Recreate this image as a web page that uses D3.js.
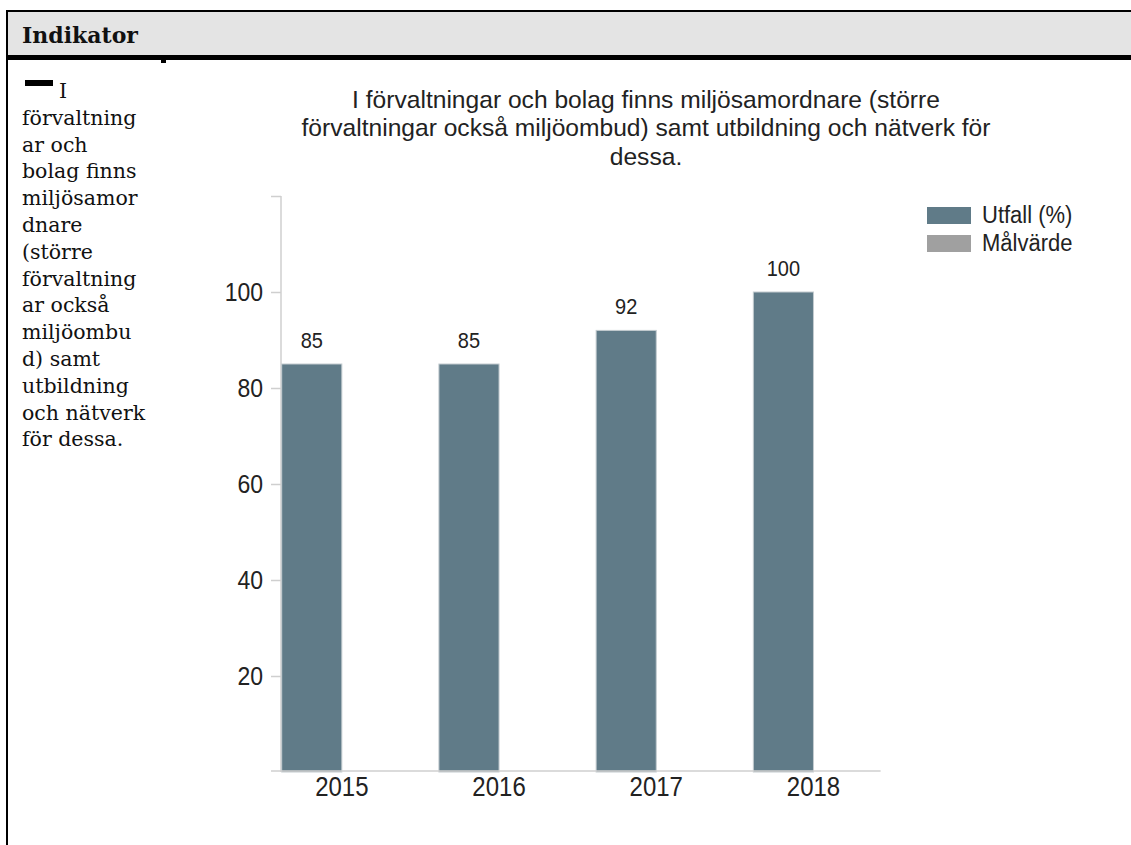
<!DOCTYPE html>
<html>
<head>
<meta charset="utf-8">
<script src="https://cdn.jsdelivr.net/npm/d3@7"></script>
<style>
  body { margin: 0; background: #fff; width: 1131px; height: 845px; overflow: hidden; position: relative; }
  .frame { position: absolute; left: 6px; top: 10px; width: 1200px; height: 900px; border-left: 2px solid #000; border-top: 2px solid #000; }
  .head { position: absolute; left: 8px; top: 12px; width: 1200px; height: 43px; background: #e4e4e4; }
  .head span { position: absolute; left: 14px; top: 10px; font-family: "DejaVu Serif", serif; font-weight: bold; font-size: 22px; color: #111; }
  .rule { position: absolute; left: 8px; top: 55px; width: 1200px; height: 5px; background: #000; }
  .nub { position: absolute; left: 161px; top: 60px; width: 5px; height: 3px; background: #000; }
  .side { position: absolute; left: 22px; top: 78px; font-family: "DejaVu Serif", serif; font-size: 20.5px; line-height: 26.8px; color: #111; }
  .dash { display: inline-block; width: 28px; height: 6px; background: #000; vertical-align: 12px; margin-left: 3px; margin-right: 6px; }
  #chart { position: absolute; left: 0; top: 0; }
</style>
</head>
<body>
<div class="frame"></div>
<div class="head"><span>Indikator</span></div>
<div class="rule"></div>
<div class="nub"></div>
<div class="side"><span class="dash"></span>I<br>förvaltning<br>ar och<br>bolag finns<br>miljösamor<br>dnare<br>(större<br>förvaltning<br>ar också<br>miljöombu<br>d) samt<br>utbildning<br>och nätverk<br>för dessa.</div>
<div id="chart"></div>
<script>
const titleLines = [
  "I förvaltningar och bolag finns miljösamordnare (större",
  "förvaltningar också miljöombud) samt utbildning och nätverk för",
  "dessa."
];
const years = ["2015", "2016", "2017", "2018"];
const utfall = [85, 85, 92, 100];
const malvarde = [null, null, null, null];
const seriesNames = ["Utfall (%)", "Målvärde"];
const seriesColors = ["#607b88", "#a0a0a0"];
const yTicks = [20, 40, 60, 80, 100, 120];

const width = 1131;
const height = 845;
const font = "'Liberation Sans', Arial, sans-serif";
const stretchY = 1.12;

// the source texts are a bit taller than Arial, stretch them around their own y
const stretch = (sel) =>
  sel.attr("transform", function () {
    const y0 = +this.getAttribute("y") || 0;
    return `matrix(1,0,0,${stretchY},0,${y0 * (1 - stretchY)})`;
  });

const svg = d3.select("#chart").append("svg").attr("width", width).attr("height", height);

// title
svg
  .append("text")
  .attr("x", 646)
  .attr("y", 108)
  .attr("text-anchor", "middle")
  .style("font-family", font)
  .style("font-size", "24.6px")
  .attr("fill", "#222")
  .selectAll("tspan")
  .data(titleLines)
  .enter()
  .append("tspan")
  .attr("x", 646)
  .attr("dy", (d, i) => (i === 0 ? 0 : 28.4))
  .text((d) => d);

const x0 = d3.scaleBand().domain(years).range([281.7, 873.6]).paddingInner(0.235).paddingOuter(0);
const x1 = d3.scaleBand().domain(seriesNames).range([0, x0.bandwidth()]);
const y = d3.scaleLinear().domain([0, 120]).range([772, 196]);

const data = years.map((year, i) => ({ year: year, values: [utfall[i], malvarde[i]] }));

// y axis
const yAxis = d3
  .axisLeft(y)
  .tickValues(yTicks)
  .tickFormat((d) => (d === 120 ? "" : d))
  .tickSize(10)
  .tickSizeOuter(0)
  .tickPadding(8);

const gy = svg.append("g").attr("transform", "translate(281, 0)").call(yAxis);
gy.select(".domain").remove();
gy.selectAll(".tick line").attr("stroke", "#cfcfcf").attr("stroke-width", 1.5);
gy.selectAll(".tick text").style("font-family", font).style("font-size", "23px").attr("fill", "#222").call(stretch);
gy.append("line")
  .attr("x1", 0)
  .attr("x2", 0)
  .attr("y1", y(120))
  .attr("y2", y(0))
  .attr("stroke", "#cfcfcf")
  .attr("stroke-width", 1.5);

// bars
const groups = svg
  .selectAll(".grp")
  .data(data)
  .enter()
  .append("g")
  .attr("class", "grp")
  .attr("transform", (d) => `translate(${x0(d.year)}, 0)`);

groups
  .selectAll("rect")
  .data((d) => d.values.map((v, i) => ({ key: seriesNames[i], value: v, color: seriesColors[i] })).filter((v) => v.value != null))
  .enter()
  .append("rect")
  .attr("x", (d) => x1(d.key))
  .attr("y", (d) => y(d.value))
  .attr("width", x1.bandwidth())
  .attr("height", (d) => y(0) - y(d.value))
  .attr("fill", (d) => d.color)
  .attr("stroke", "#c4ccd0")
  .attr("stroke-width", 1);

groups
  .selectAll(".lbl")
  .data((d) => d.values.map((v, i) => ({ key: seriesNames[i], value: v })).filter((v) => v.value != null))
  .enter()
  .append("text")
  .attr("class", "lbl")
  .attr("x", (d) => x1(d.key) + x1.bandwidth() / 2)
  .attr("y", (d) => y(d.value) - 16)
  .attr("text-anchor", "middle")
  .style("font-family", font)
  .style("font-size", "20px")
  .attr("fill", "#222")
  .text((d) => d.value)
  .call(stretch);

// x axis
const xAxis = d3.axisBottom(x0).tickSize(0).tickPadding(6);
const gx = svg.append("g").attr("transform", "translate(0, 771)").call(xAxis);
gx.select(".domain").remove();
gx.selectAll(".tick text").style("font-family", font).style("font-size", "24px").attr("fill", "#222").call(stretch);
gx.append("line")
  .attr("x1", 271)
  .attr("x2", x0.range()[1] + 7)
  .attr("y1", 0)
  .attr("y2", 0)
  .attr("stroke", "#cfcfcf")
  .attr("stroke-width", 1.5);

// legend
const legend = svg
  .selectAll(".legend")
  .data(seriesNames)
  .enter()
  .append("g")
  .attr("class", "legend")
  .attr("transform", (d, i) => `translate(927, ${207 + i * 28})`);

legend
  .append("rect")
  .attr("width", 44)
  .attr("height", 17)
  .attr("fill", (d, i) => seriesColors[i]);

legend
  .append("text")
  .attr("x", 55)
  .attr("y", 16)
  .style("font-family", font)
  .style("font-size", "22px")
  .attr("fill", "#222")
  .text((d) => d)
  .call(stretch);
</script>
</body>
</html>
